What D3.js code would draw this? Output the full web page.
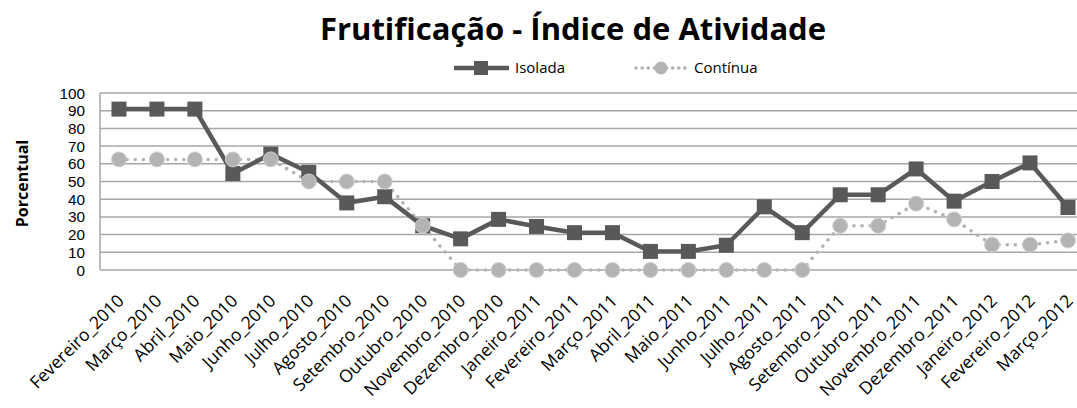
<!DOCTYPE html>
<html>
<head>
<meta charset="utf-8">
<script src="https://cdn.jsdelivr.net/npm/d3@7"></script>
<style>
  body { margin: 0; background: #fff; }
  svg { display: block; }
  text { font-family: "Open Sans", "DejaVu Sans", sans-serif; fill: #000; }
</style>
</head>
<body>
<svg id="chart" width="1077" height="408"></svg>
<script>
// categories (months)
const months = [
  'Fevereiro_2010', 'Março_2010', 'Abril_2010', 'Maio_2010', 'Junho_2010',
  'Julho_2010', 'Agosto_2010', 'Setembro_2010', 'Outubro_2010', 'Novembro_2010',
  'Dezembro_2010', 'Janeiro_2011', 'Fevereiro_2011', 'Março_2011', 'Abril_2011',
  'Maio_2011', 'Junho_2011', 'Julho_2011', 'Agosto_2011', 'Setembro_2011',
  'Outubro_2011', 'Novembro_2011', 'Dezembro_2011', 'Janeiro_2012', 'Fevereiro_2012',
  'Março_2012'
];

// series values (%)
const isolada = [
  90.9, 90.9, 90.9, 54.5, 65.5, 55.2, 37.9, 41.4, 25.0, 17.6,
  28.6, 24.6, 21.1, 21.1, 10.5, 10.5, 14.0, 35.7, 21.1, 42.5,
  42.5, 57.1, 38.9, 50.0, 60.5, 35.3
];
const continua = [
  62.5, 62.5, 62.5, 62.5, 62.5, 50.0, 50.0, 50.0, 25.0, 0,
  0, 0, 0, 0, 0, 0, 0, 0, 0, 25.0,
  25.0, 37.5, 28.6, 14.3, 14.3, 16.7
];

const yTicks = [0, 10, 20, 30, 40, 50, 60, 70, 80, 90, 100];

const svg = d3.select('#chart');
const margin = {top: 93, left: 100, bottom: 138};
const band = 37.96;
const height = 408 - margin.top - margin.bottom;
const width = band * months.length;

const x = d3.scaleBand()
  .domain(months)
  .range([margin.left, margin.left + width]);

const y = d3.scaleLinear()
  .domain([0, 100])
  .range([margin.top + height, margin.top]);

// title
svg.append('text')
  .attr('x', 573)
  .attr('y', 40)
  .attr('text-anchor', 'middle')
  .style('font-size', '31px')
  .style('font-weight', 'bold')
  .text('Frutificação - Índice de Atividade');

// gridlines
svg.append('g')
  .selectAll('line')
  .data(yTicks)
  .join('line')
    .attr('x1', margin.left)
    .attr('x2', margin.left + width)
    .attr('y1', d => y(d))
    .attr('y2', d => y(d))
    .attr('stroke', '#a6a6a6')
    .attr('stroke-width', 1.5);

// left frame
svg.append('line')
  .attr('x1', margin.left).attr('x2', margin.left)
  .attr('y1', y(100)).attr('y2', y(0))
  .attr('stroke', '#a6a6a6')
  .attr('stroke-width', 1.5);

// y axis labels (tight line box so the stacked numbers don't collide)
svg.append('g')
  .selectAll('text')
  .data(yTicks)
  .join('text')
    .attr('x', 85)
    .attr('y', d => y(d))
    .attr('dy', '0.36em')
    .attr('text-anchor', 'end')
    .style('font-family', '"Liberation Sans", Arial, sans-serif')
    .style('font-size', '15.3px')
    .text(d => d);

svg.append('text')
  .attr('transform', 'translate(28,' + (y(50) + 2) + ') rotate(-90)')
  .attr('text-anchor', 'middle')
  .style('font-size', '16px')
  .style('font-weight', 'bold')
  .text('Porcentual');

// x labels
svg.append('g')
  .selectAll('text')
  .data(months)
  .join('text')
    .attr('transform', d => 'translate(' + (x(d) + x.bandwidth() / 2 + 6) + ',302) rotate(-45)')
    .attr('text-anchor', 'end')
    .style('font-size', '17.5px')
    .text(d => d);

const cx = d => x(d) + x.bandwidth() / 2;

const line = d3.line()
  .x((d, i) => cx(months[i]))
  .y(d => y(d));

// Contínua series
svg.append('path')
  .datum(continua)
  .attr('d', line)
  .attr('fill', 'none')
  .attr('stroke', '#b3b3b3')
  .attr('stroke-width', 3.5)
  .attr('stroke-linecap', 'round')
  .attr('stroke-dasharray', '0.1 8');

// Isolada series
svg.append('path')
  .datum(isolada)
  .attr('d', line)
  .attr('fill', 'none')
  .attr('stroke', '#595959')
  .attr('stroke-width', 4.5);

svg.append('g')
  .selectAll('rect')
  .data(isolada)
  .join('rect')
    .attr('x', (d, i) => cx(months[i]) - 7.5)
    .attr('y', d => y(d) - 7.5)
    .attr('width', 15)
    .attr('height', 15)
    .attr('fill', '#595959');

svg.append('g')
  .selectAll('circle')
  .data(continua)
  .join('circle')
    .attr('cx', (d, i) => cx(months[i]))
    .attr('cy', d => y(d))
    .attr('r', 7.5)
    .attr('fill', '#b3b3b3')
    .attr('stroke', '#d0d0d0')
    .attr('stroke-width', 1);

// legend
const legend = svg.append('g');
legend.append('line')
  .attr('x1', 454).attr('x2', 509).attr('y1', 68).attr('y2', 68)
  .attr('stroke', '#595959').attr('stroke-width', 4.5);
legend.append('rect')
  .attr('x', 474).attr('y', 61).attr('width', 14).attr('height', 14)
  .attr('fill', '#595959');
legend.append('text')
  .attr('x', 515).attr('y', 68).attr('dy', '0.35em')
  .style('font-size', '15px')
  .text('Isolada');

legend.append('line')
  .attr('x1', 636).attr('x2', 686).attr('y1', 68).attr('y2', 68)
  .attr('stroke', '#b3b3b3').attr('stroke-width', 3.5)
  .attr('stroke-linecap', 'round').attr('stroke-dasharray', '0.1 6');
legend.append('circle')
  .attr('cx', 661).attr('cy', 68).attr('r', 6.5)
  .attr('fill', '#b3b3b3');
legend.append('text')
  .attr('x', 694).attr('y', 68).attr('dy', '0.35em')
  .style('font-size', '15px')
  .text('Contínua');
</script>
</body>
</html>
